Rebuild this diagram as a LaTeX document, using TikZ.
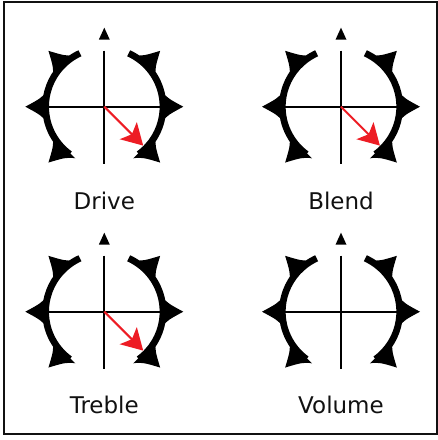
\documentclass[tikz,border=0pt]{standalone}
\usepackage{fontspec}
\setmainfont{DejaVu Sans}
\usetikzlibrary{arrows.meta}
\definecolor{knobred}{HTML}{ED1C24}
\definecolor{ink}{HTML}{111111}
\tikzset{
  knobarc/.style={line width=6.7pt, draw=black},
  knobline/.style={line width=2.2pt, draw=black},
  knobtick/.style={fill=black},
  pointer/.style={line width=2pt, draw=knobred, -{Stealth[length=21pt,width=24pt,inset=5pt]}},
  knoblabel/.style={font=\fontsize{23}{27}\selectfont, text=ink, anchor=base, inner sep=0pt},
  framebox/.style={line width=2pt, draw=ink}
}
\newcommand\drawknob[3]{%
  \begin{scope}[shift={(#2,#3)}]
    \coordinate (#1c) at (0,0);
    \draw[knobarc] (114.5:58.7) arc[start angle=114.5, end angle=234, radius=58.7];
    \draw[knobarc] (-54:58.7) arc[start angle=-54, end angle=65.5, radius=58.7];
    \foreach \a in {0,45,135,180,225,315}{
      \fill[knobtick, rotate=\a] (57,16) .. controls (62,9) and (66,7) .. (79,0)
        .. controls (66,-7) and (62,-9) .. (57,-16) -- cycle;
    }
    \fill[knobtick] (0,79) -- (-5.5,67) -- (5.5,67) -- cycle;
    \draw[knobline] (-56,0) -- (56,0);
    \draw[knobline] (0,56) -- (0,-57);
  \end{scope}}
\begin{document}
\begin{tikzpicture}[x=1pt,y=1pt]
  \useasboundingbox (0,0) rectangle (438,440);
  \draw[framebox] (3.5,437.5) rectangle (436.5,5.5);
  \drawknob{drive}{104.3}{333.3}
  \drawknob{blend}{341}{333.3}
  \drawknob{treble}{104.3}{128.3}
  \drawknob{volume}{341}{128.3}
  \path (drivec) ++(-45:55) coordinate (drivetip);
  \path (blendc) ++(-45:55) coordinate (blendtip);
  \path (treblec) ++(-45:55) coordinate (trebletip);
  \draw[pointer] (drivec) -- (drivetip);
  \draw[pointer] (blendc) -- (blendtip);
  \draw[pointer] (treblec) -- (trebletip);
  \node[knoblabel] (drivelabel) at (104.3,230) {Drive};
  \node[knoblabel] (blendlabel) at (341,230) {Blend};
  \node[knoblabel] (treblelabel) at (104.3,27) {Treble};
  \node[knoblabel] (volumelabel) at (341,27) {Volume};
\end{tikzpicture}
\end{document}
